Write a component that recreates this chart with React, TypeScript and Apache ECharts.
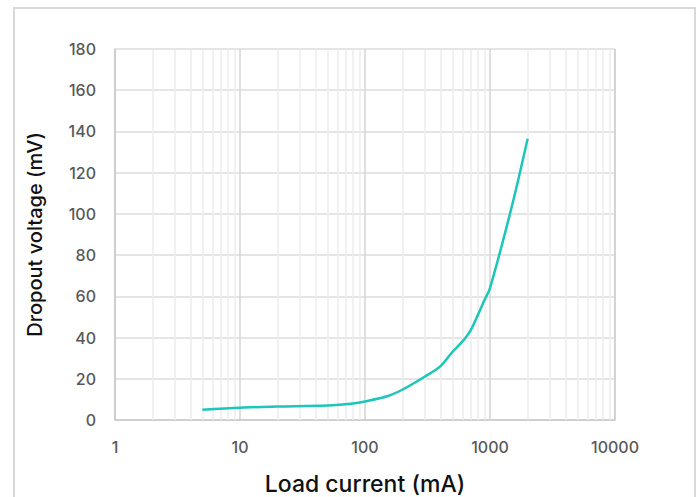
import React, { useEffect, useRef } from "react";
import * as echarts from "echarts";

const loadCurrent = [5, 10, 20, 50, 80, 100, 150, 200, 300, 400, 500, 600, 700, 800, 900, 1000, 1500, 2000];
const dropoutVoltage = [5, 6, 6.5, 7, 8, 9, 11.5, 14.8, 21, 26, 33, 38, 43.5, 51, 58, 64, 104, 136.5];
const minorGridValues = [2, 3, 4, 5, 6, 7, 8, 9, 20, 30, 40, 50, 60, 70, 80, 90, 200, 300, 400, 500, 600, 700, 800, 900, 2000, 3000, 4000, 5000, 6000, 7000, 8000, 9000];

const FONT = "Inter, Roboto, 'Noto Sans', sans-serif";

export default function App() {
  const ref = useRef<HTMLDivElement>(null);
  useEffect(() => {
    if (!ref.current) return;
    const chart = echarts.init(ref.current, undefined, { renderer: "svg" });
    chart.setOption({
      animation: false,
      backgroundColor: "#ffffff",
      grid: { left: 115, top: 49, right: 81, bottom: 77, containLabel: false, outerBoundsMode: "none" },
      graphic: [
        {
          type: "rect",
          shape: { x: 14, y: 8, width: 681, height: 500 },
          style: { fill: "none", stroke: "#d9d9d9", lineWidth: 2 },
          z: -10,
        },
        {
          type: "line",
          shape: { x1: 615, y1: 49, x2: 615, y2: 420 },
          style: { stroke: "#d0d0d0", lineWidth: 1.5 },
          z: 1,
        },
      ],
      xAxis: {
        type: "log",
        logBase: 10,
        min: 1,
        max: 10000,
        name: "Load current (mA)",
        nameLocation: "middle",
        nameGap: 52,
        nameTextStyle: { fontFamily: FONT, fontSize: 23, fontWeight: 500, color: "#111111", lineHeight: 24 },
        axisLine: { show: true, lineStyle: { color: "#c8c8c8", width: 1.5 } },
        axisTick: { show: false },
        axisLabel: {
          fontFamily: FONT,
          fontSize: 16,
          fontWeight: 500,
          color: "#595959",
          margin: 19,
          formatter: (v: number) => String(Math.round(v)),
        },
        splitLine: { show: true, lineStyle: { color: "#d4d4d4", width: 1.5 } },
      },
      yAxis: {
        type: "value",
        min: 0,
        max: 180,
        interval: 20,
        name: "Dropout voltage (mV)",
        nameLocation: "middle",
        nameGap: 70,
        nameTextStyle: { fontFamily: FONT, fontSize: 20, fontWeight: 500, color: "#111111" },
        axisLine: { show: true, lineStyle: { color: "#c8c8c8", width: 1.5 } },
        axisTick: { show: false },
        axisLabel: { fontFamily: FONT, fontSize: 16, fontWeight: 500, color: "#595959", margin: 19 },
        splitLine: { show: true, lineStyle: { color: "#dcdcdc", width: 1.5 } },
      },
      series: [
        {
          type: "line",
          data: [],
          z: 1,
          silent: true,
          markLine: {
            silent: true,
            symbol: "none",
            label: { show: false },
            lineStyle: { color: "#ececec", width: 1.5, type: "solid" },
            data: minorGridValues.map((v) => ({ xAxis: v })),
          },
        },
        {
          type: "line",
          z: 5,
          data: loadCurrent.map((x, i) => [x, dropoutVoltage[i]]),
          smooth: 0.3,
          showSymbol: false,
          symbol: "none",
          lineStyle: { color: "#1cc6b8", width: 2.5 },
        },
      ],
    });
    return () => chart.dispose();
  }, []);
  return (
    <div
      ref={ref}
      style={{ position: "fixed", left: 0, top: 0, width: 696, height: 497 }}
    />
  );
}
